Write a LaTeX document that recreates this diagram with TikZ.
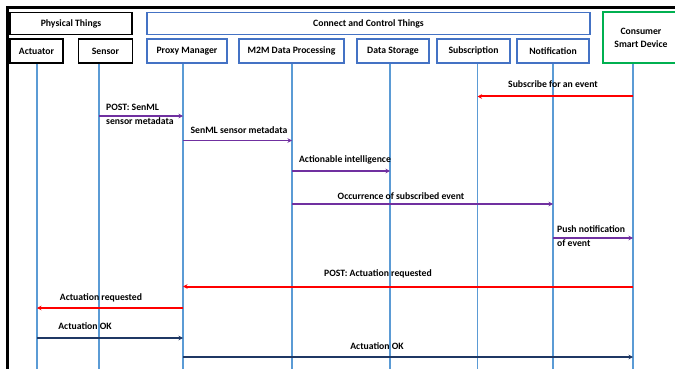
\documentclass[tikz,border=0pt]{standalone}
\usepackage{fontspec}
\setmainfont{Carlito}
\usetikzlibrary{arrows.meta}

\definecolor{boxblue}{HTML}{4472C4}
\definecolor{boxgreen}{HTML}{00B050}
\definecolor{lifeblue}{HTML}{5B9BD5}
\definecolor{msgpurple}{HTML}{7030A0}
\definecolor{msgred}{HTML}{FF0000}
\definecolor{msgnavy}{HTML}{1F3864}

\tikzset{
  thing/.style={draw=black, line width=1.5pt, inner sep=0pt},
  ctrl/.style={draw=boxblue, line width=1.5pt, inner sep=0pt},
  device/.style={draw=boxgreen, line width=1.5pt, inner sep=0pt, align=center},
  lifeline/.style={draw=lifeblue, line width=1.2pt},
  msgp/.style={draw=msgpurple, line width=1.8pt, -{Stealth[length=4.5pt,width=4.5pt]}},
  msgr/.style={draw=msgred, line width=2pt, -{Stealth[length=4.5pt,width=4.5pt]}},
  msgn/.style={draw=msgnavy, line width=1.8pt, -{Stealth[length=4.5pt,width=4.5pt]}},
  lbl/.style={inner sep=0pt, align=left}
}

\begin{document}
\begin{tikzpicture}[x=1pt, y=-1pt, font=\fontsize{9.7pt}{14pt}\selectfont\bfseries]
\useasboundingbox (0,0) rectangle (675,369);

% frame
\draw[line width=2.5pt] (7.5,369) -- (7.5,7.5) -- (676,7.5);

% header boxes
\node[thing, minimum width=122pt, minimum height=22pt] (phys) at (71,23.5) {Physical Things};
\node[ctrl, minimum width=443pt, minimum height=22pt] (cct) at (368.5,23.5) {Connect and Control Things};
\node[device, minimum width=76pt, minimum height=51pt] (consumer) at (641,37.5) {Consumer\\[-1pt]Smart Device};

\node[thing, minimum width=53pt, minimum height=24pt] (actuator) at (36.5,51) {Actuator};
\node[thing, minimum width=54pt, minimum height=24pt] (sensor) at (105.5,51) {Sensor};
\node[ctrl, minimum width=80pt, minimum height=24pt] (proxy) at (187,51) {Proxy Manager};
\node[ctrl, minimum width=105pt, minimum height=24pt] (m2m) at (291.5,51) {M2M Data Processing};
\node[ctrl, minimum width=72pt, minimum height=24pt] (storage) at (393,51) {Data Storage};
\node[ctrl, minimum width=73pt, minimum height=24pt] (subscr) at (473.5,51) {Subscription};
\node[ctrl, minimum width=72pt, minimum height=24pt] (notif) at (553,51) {Notification};

% lifelines
\coordinate (lact) at (37,64);
\coordinate (lsen) at (99,64);
\coordinate (lpro) at (183,64);
\coordinate (lm2m) at (292,64);
\coordinate (lsto) at (390,64);
\coordinate (lsub) at (477.5,64);
\coordinate (lnot) at (553,64);
\coordinate (lcon) at (633,64);
\foreach \l in {lact,lsen,lpro,lm2m,lsto,lsub,lnot,lcon}
  \draw[lifeline] (\l) -- (\l |- 0,369);

% messages
\draw[msgr] (lcon |- 0,96.5) -- (lsub |- 0,96.5);
\node[lbl] (m1) at (553,84) {Subscribe for an event};

\draw[msgp] (lsen |- 0,116) -- (lpro |- 0,116);
\node[lbl, anchor=west] (m2) at (106,114.5) {POST: SenML\\sensor metadata};

\draw[msgp] (lpro |- 0,140.5) -- (lm2m |- 0,140.5);
\node[lbl] (m3) at (239,130.5) {SenML sensor metadata};

\draw[msgp] (lm2m |- 0,171) -- (lsto |- 0,171);
\node[lbl] (m4) at (345,159.5) {Actionable intelligence};

\draw[msgp] (lm2m |- 0,204) -- (lnot |- 0,204);
\node[lbl] (m5) at (401,196) {Occurrence of subscribed event};

\draw[msgp] (lnot |- 0,238) -- (lcon |- 0,238);
\node[lbl, anchor=west] (m6) at (557,236) {Push notification\\of event};

\draw[msgr] (lcon |- 0,286.5) -- (lpro |- 0,286.5);
\node[lbl] (m7) at (378,274) {POST: Actuation requested};

\draw[msgr] (lpro |- 0,308) -- (lact |- 0,308);
\node[lbl] (m8) at (101,298) {Actuation requested};

\draw[msgn] (lact |- 0,338) -- (lpro |- 0,338);
\node[lbl] (m9) at (85,326) {Actuation OK};

\draw[msgn] (lpro |- 0,357) -- (lcon |- 0,357);
\node[lbl] (m10) at (377,346) {Actuation OK};
\end{tikzpicture}
\end{document}
